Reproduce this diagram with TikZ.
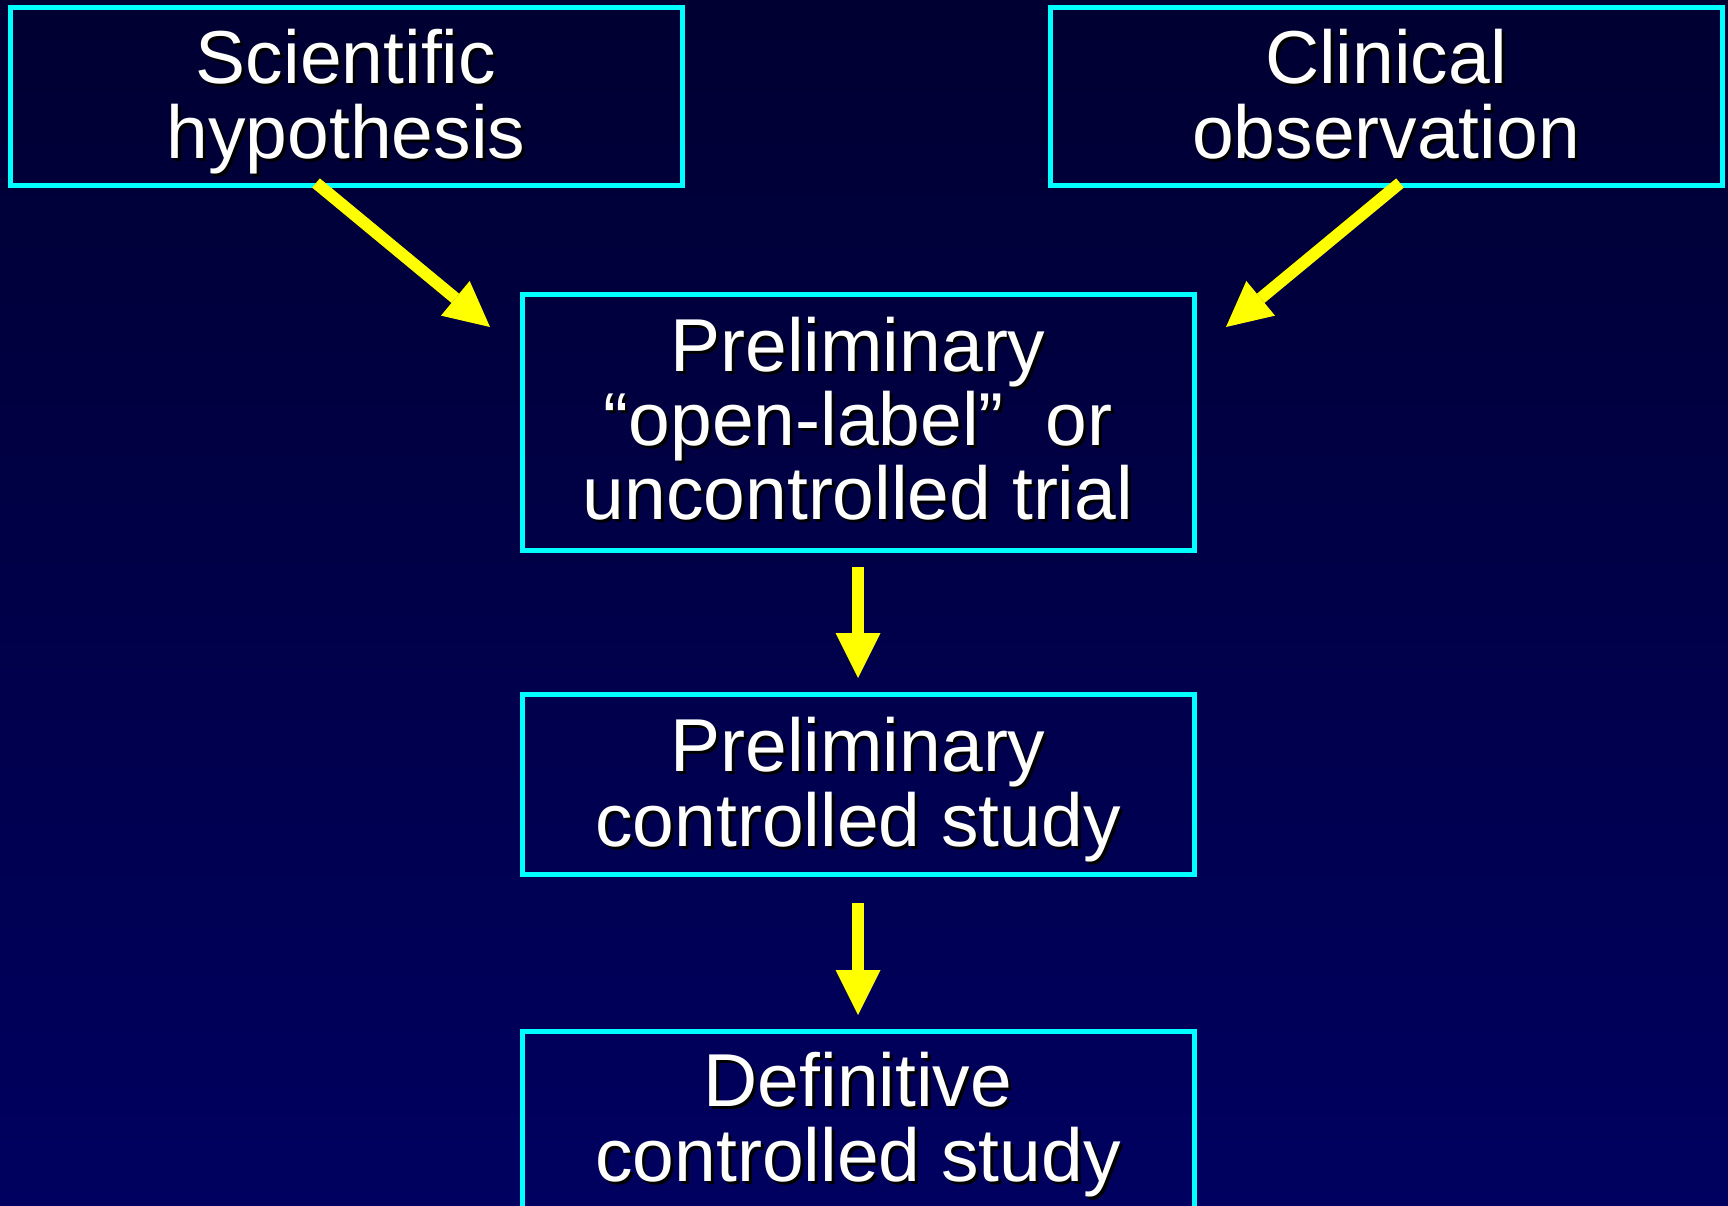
\documentclass[tikz,border=0pt]{standalone}
\usepackage{fontspec}
\setmainfont{Liberation Sans}
\usetikzlibrary{arrows.meta}
\definecolor{boxcyan}{RGB}{0,255,255}
\definecolor{arrowyellow}{RGB}{255,255,0}
\definecolor{bgtop}{RGB}{0,0,50}
\definecolor{bgbot}{RGB}{0,0,96}
\newcommand{\shtext}[1]{\makebox[0pt][l]{\hspace{1.5pt}\raisebox{-1.5pt}{\color{black}#1}}#1}
\begin{document}
\begin{tikzpicture}[x=0.5pt,y=-0.5pt,
  box/.style={draw=boxcyan, line width=2.5pt, minimum width=336pt, inner sep=0pt},
  txt/.style={text=white, font=\fontsize{37.5}{37.5}\selectfont, anchor=base, inner sep=0pt},
  arr/.style={draw=arrowyellow, line width=6pt, -{Triangle[width=22.5pt,length=22.5pt,line width=0pt]}}]
\shade[top color=bgtop, bottom color=bgbot] (0,0) rectangle (1728,1205);
\useasboundingbox (0,0) rectangle (1728,1205);
\clip (0,0) rectangle (1728,1205);

% boxes
\node[box, minimum height=89pt] (sci) at (346,96) {};
\node[box, minimum height=89pt] (clin) at (1386,96) {};
\node[box, minimum height=128pt] (p1) at (858.5,422) {};
\node[box, minimum height=90pt] (p2) at (858.5,784) {};
\node[box, minimum height=105pt] (def) at (858.5,1136) {};

% texts
\node[txt] (sci1) at (346,83) {\shtext{Scientific}};
\node[txt] (sci2) at (346,158) {\shtext{hypothesis}};
\node[txt] (clin1) at (1386,83) {\shtext{Clinical}};
\node[txt] (clin2) at (1386,158) {\shtext{observation}};
\node[txt] (p1a) at (858,371) {\shtext{Preliminary}};
\node[txt] (p1b) at (858,445) {\shtext{“open-label”\ \ or}};
\node[txt] (p1c) at (858,519) {\shtext{uncontrolled trial}};
\node[txt] (p2a) at (858,771) {\shtext{Preliminary}};
\node[txt] (p2b) at (858,846) {\shtext{controlled study}};
\node[txt] (defa) at (858,1106) {\shtext{Definitive}};
\node[txt] (defb) at (858,1181) {\shtext{controlled study}};

% arrow end points
\coordinate (a1s) at (316,183);
\coordinate (a1e) at (490,327);
\coordinate (a2s) at (1400,183);
\coordinate (a2e) at (1226,327);
\coordinate (a3s) at (858,567);
\coordinate (a3e) at (858,678);
\coordinate (a4s) at (858,903);
\coordinate (a4e) at (858,1015);

\draw[arr] (a1s) -- (a1e);
\draw[arr] (a2s) -- (a2e);
\draw[arr] (a3s) -- (a3e);
\draw[arr] (a4s) -- (a4e);
\end{tikzpicture}
\end{document}
